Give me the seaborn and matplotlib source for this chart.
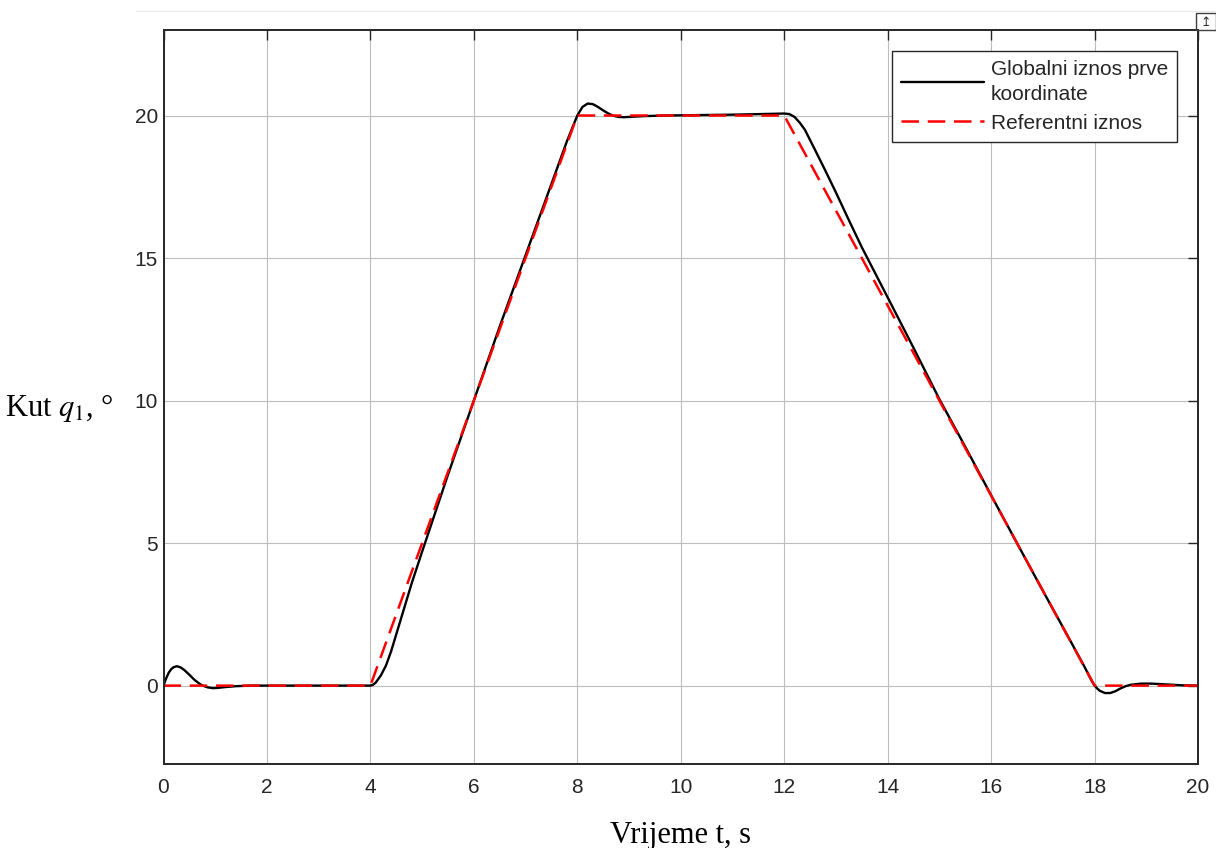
import matplotlib
matplotlib.use('Agg')
import matplotlib.pyplot as plt
import seaborn as sns
from matplotlib.lines import Line2D
from matplotlib.patches import Rectangle

# Referentni iznos (trapezni profil)
t_ref = [0, 4, 8, 12, 18, 20]
q_ref = [0, 0, 20, 20, 0, 0]

# Globalni iznos prve koordinate (ocitano sa slike)
t_odziv = [0.0, 0.05, 0.1, 0.15, 0.2, 0.26, 0.33, 0.4, 0.5, 0.6, 0.7, 0.76, 0.85, 0.95,
           1.05, 1.2, 1.4, 1.7, 2.5, 3.5, 4.0, 4.05, 4.1, 4.2, 4.3, 4.4, 4.5, 4.6, 4.8,
           5.0, 5.5, 6.0, 6.5, 7.0, 7.5, 7.8, 8.0, 8.1, 8.2, 8.3, 8.4, 8.5, 8.6, 8.7,
           8.8, 8.9, 9.0, 9.3, 9.7, 11.0, 11.8, 12.0, 12.1, 12.2, 12.3, 12.4, 12.6,
           12.8, 13.0, 13.25, 13.5, 14.0, 14.5, 15.0, 15.5, 16.0, 16.5, 17.0, 17.5, 17.8,
           17.95, 18.0, 18.05, 18.1, 18.2, 18.3, 18.4, 18.5, 18.6, 18.7, 18.9, 19.1,
           19.4, 19.7, 20.0]
q_odziv = [0.0, 0.25, 0.45, 0.58, 0.65, 0.68, 0.64, 0.55, 0.38, 0.2, 0.06, 0.0, -0.06, -0.09,
           -0.08, -0.05, -0.02, 0.0, 0.0, 0.0, 0.0, 0.03, 0.1, 0.35, 0.7, 1.2, 1.8, 2.4, 3.6,
           4.7, 7.4, 10.0, 12.6, 15.1, 17.6, 19.1, 20.0, 20.3, 20.42, 20.4, 20.3, 20.18, 20.07, 19.99,
           19.95, 19.94, 19.95, 19.98, 20.0, 20.03, 20.06, 20.07, 20.05, 19.95, 19.75, 19.5, 18.78,
           18.05, 17.3, 16.33, 15.38, 13.62, 11.85, 10.05, 8.38, 6.68, 5.0, 3.33, 1.68, 0.68,
           0.15, 0.0, -0.1, -0.18, -0.26, -0.26, -0.2, -0.1, -0.02, 0.03, 0.07, 0.07,
           0.04, 0.01, 0.0]

x_ticks = [0, 2, 4, 6, 8, 10, 12, 14, 16, 18, 20]
y_ticks = [0, 5, 10, 15, 20]

sns.set_theme(style='white')
plt.rcParams['font.family'] = ['Liberation Sans', 'DejaVu Sans']
plt.rcParams['mathtext.fontset'] = 'stix'

W, H = 1216, 848
fig = plt.figure(figsize=(W / 100, H / 100), dpi=100)
ax = fig.add_axes([163.5 / W, (H - 764) / H, (1198 - 163.5) / W, 734 / H])

# Odziv i referenca
sns.lineplot(x=t_odziv, y=q_odziv, ax=ax, color='black', linewidth=1.7,
             estimator=None, sort=False, label='Globalni iznos prve\nkoordinate')
sns.lineplot(x=t_ref, y=q_ref, ax=ax, color='#ff0000', linewidth=1.8,
             estimator=None, sort=False, label='Referentni iznos')
ax.lines[-1].set_dashes((7, 3.5))

ax.set_xlim(0, 20)
ax.set_ylim(-2.75, 23)
ax.set_xticks(x_ticks)
ax.set_yticks(y_ticks)

ax.set_axisbelow(True)
ax.grid(True, color='#bdbdbd', linewidth=0.8)
for s in ax.spines.values():
    s.set_visible(True)
    s.set_color('#262626')
    s.set_linewidth(1.4)

ax.tick_params(direction='in', length=7, width=1, top=True, right=True,
               labelsize=15, colors='#262626')
ax.tick_params(axis='x', pad=10)
ax.tick_params(axis='y', pad=4)

# Oznake osi
ax.set_xlabel('Vrijeme t, s', fontsize=22, family='Liberation Serif', color='black')
ax.xaxis.set_label_coords(0.5, -0.078)
ax.set_ylabel('Kut $q_1$, °', fontsize=22, family='Liberation Serif', color='black',
              rotation=0, ha='left', va='center')
ax.yaxis.set_label_coords((5 - 163.5) / 1034.5, (764 - 408) / 734)

leg = ax.legend(loc='upper right', fontsize=15, frameon=True, fancybox=False,
                framealpha=1, edgecolor='#262626', borderaxespad=1.0,
                handlelength=4.0, handletextpad=0.3, borderpad=0.45, labelspacing=0.45)
leg.get_frame().set_linewidth(1.0)
for txt in leg.get_texts():
    txt.set_linespacing(1.4)

# Sitni detalji MATLAB prozora
fig.add_artist(Line2D([136 / W, 1], [1 - 11 / H, 1 - 11 / H], color='#ececec',
                      linewidth=1, transform=fig.transFigure))
fig.add_artist(Rectangle((1196 / W, 1 - 30 / H), 20 / W, 17 / H, fill=False,
                         edgecolor='#404040', linewidth=1, transform=fig.transFigure))
fig.text(1206 / W, 1 - 22 / H, '↥', fontsize=9, ha='center', va='center',
         family='DejaVu Sans', color='#303030')

plt.savefig('out.png', dpi=100)
plt.close()
